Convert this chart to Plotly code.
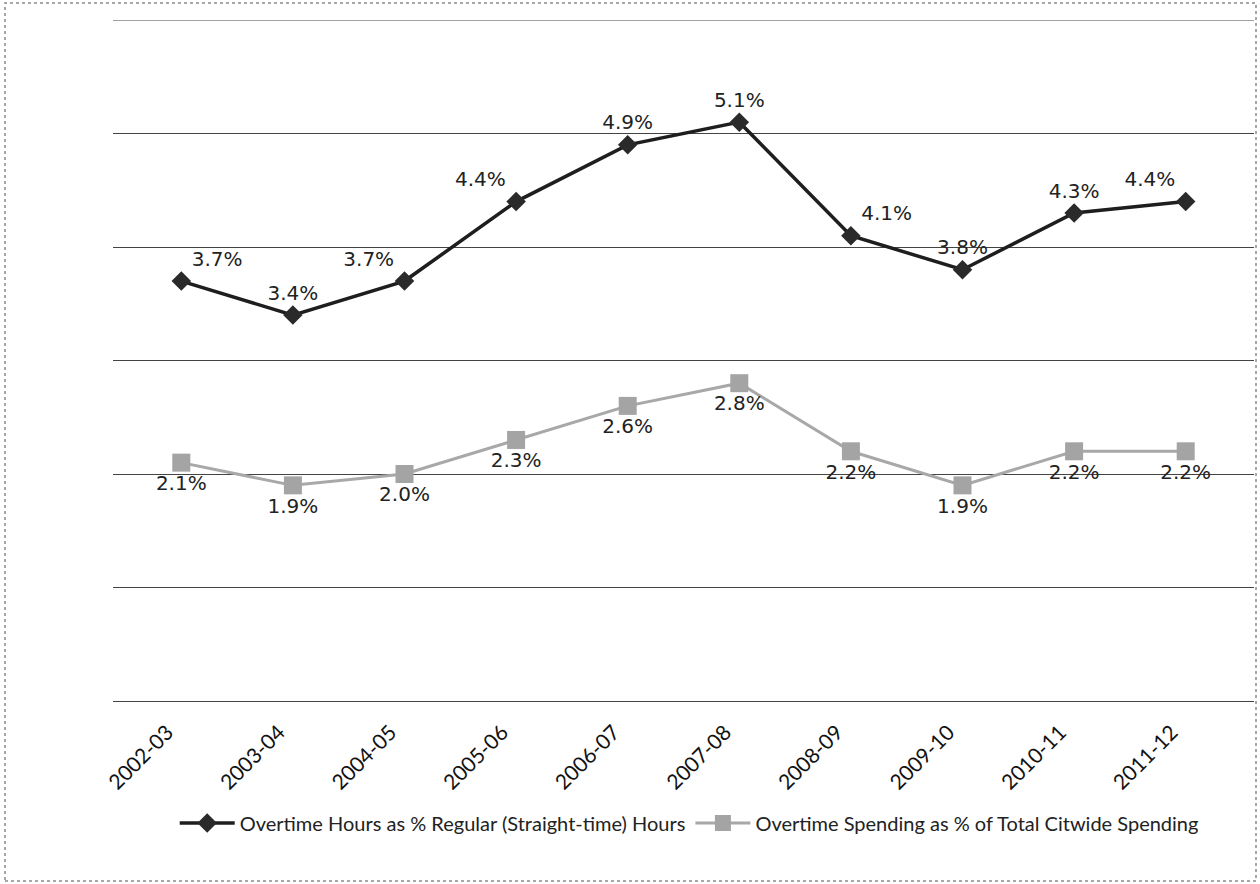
import plotly.graph_objects as go

years = ["2002-03", "2003-04", "2004-05", "2005-06", "2006-07",
         "2007-08", "2008-09", "2009-10", "2010-11", "2011-12"]
overtime_hours_pct = [3.7, 3.4, 3.7, 4.4, 4.9, 5.1, 4.1, 3.8, 4.3, 4.4]
overtime_spending_pct = [2.1, 1.9, 2.0, 2.3, 2.6, 2.8, 2.2, 1.9, 2.2, 2.2]

hours_label_pos = ["top right", "top center", "top left", "top left", "top center",
                   "top center", "top right", "top center", "top center", "top left"]
spending_label_pos = ["bottom center"] * len(years)

W, H = 1260, 884
ML, MR, MT, MB = 113, 6, 20, 183
Y_MAX = 6

fig = go.Figure()

fig.add_trace(go.Scatter(
    x=years, y=overtime_hours_pct,
    name="Overtime Hours as % Regular (Straight-time) Hours",
    mode="lines+markers+text",
    line=dict(color="#1e1e1e", width=3.5),
    marker=dict(symbol="diamond", size=15, color="#2a2a2a"),
    text=[f"{v:.1f}%" for v in overtime_hours_pct],
    textposition=hours_label_pos,
    textfont=dict(family="DejaVu Sans", size=20, color="#222222"),
))

fig.add_trace(go.Scatter(
    x=years, y=overtime_spending_pct,
    name="Overtime Spending as % of Total Citwide Spending",
    mode="lines+markers+text",
    line=dict(color="#a8a8a8", width=3),
    marker=dict(symbol="square", size=18, color="#a4a4a4"),
    text=[f"{v:.1f}%" for v in overtime_spending_pct],
    textposition=spending_label_pos,
    textfont=dict(family="DejaVu Sans", size=20, color="#222222"),
))

# top gridline at the axis maximum
fig.add_shape(type="line", xref="paper", yref="y", x0=0, x1=1, y0=Y_MAX, y1=Y_MAX,
              line=dict(color="#444444", width=1), layer="below")

# outer chart frame
pw = W - ML - MR
ph = H - MT - MB
x0 = (5 - ML) / pw
x1 = (1256 - ML) / pw
y0 = (H - MB - 881) / ph
y1 = (H - MB - 3) / ph
fig.add_shape(type="rect", xref="paper", yref="paper",
              x0=x0, x1=x1, y0=y0, y1=y1,
              line=dict(color="#8a8a8a", width=1.5, dash="dot"))

fig.update_layout(
    width=W, height=H,
    margin=dict(l=ML, r=MR, t=MT, b=MB),
    paper_bgcolor="white", plot_bgcolor="white",
    showlegend=True,
    legend=dict(orientation="h", x=0.505, xanchor="center",
                y=(H - MB - 823) / ph, yanchor="middle",
                font=dict(family="Lato", size=20, color="#222222"),
                itemwidth=55, tracegroupgap=0),
    xaxis=dict(
        type="category", tickangle=-45, showgrid=False,
        tickfont=dict(family="Lato", size=21, color="#111111"),
        ticklabelstandoff=14, ticklabelshift=-14,
        ticks="", showline=False, zeroline=False,
    ),
    yaxis=dict(
        range=[0, Y_MAX], dtick=1, showticklabels=False,
        showgrid=True, gridcolor="#444444", gridwidth=1,
        zeroline=True, zerolinecolor="#444444", zerolinewidth=1,
        showline=False, ticks="",
    ),
)

fig.write_html("out.html")
